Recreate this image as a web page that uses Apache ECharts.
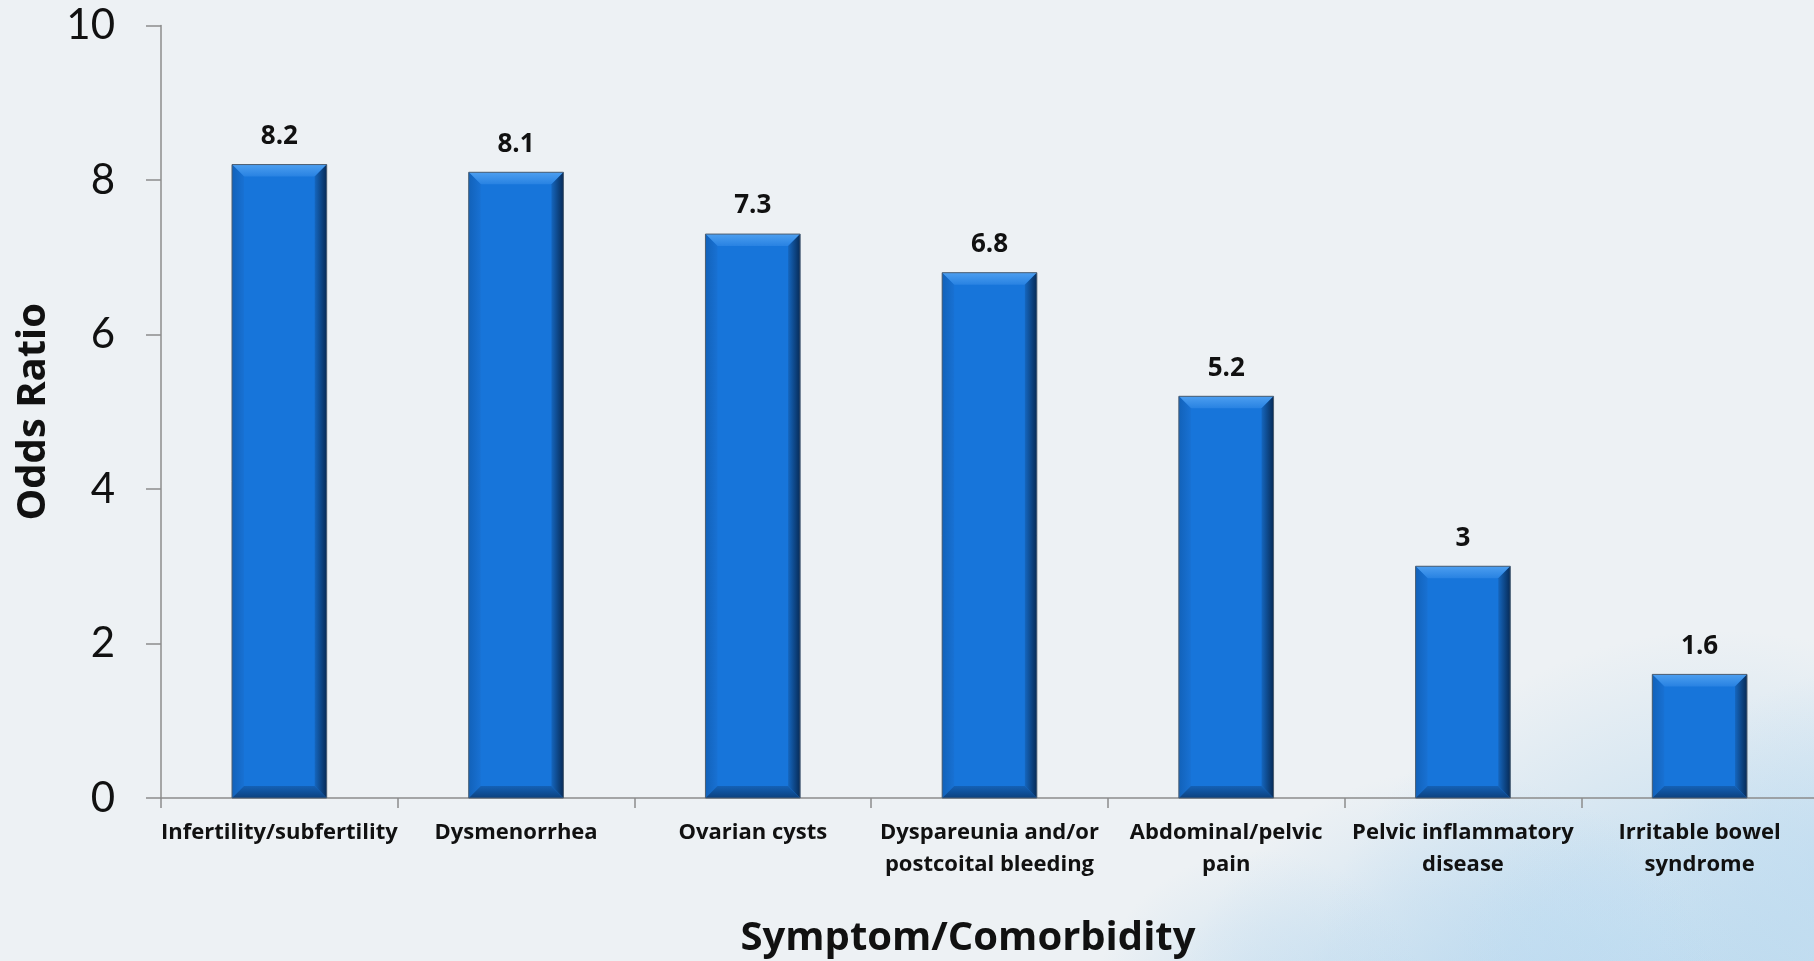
<!DOCTYPE html>
<html>
<head>
<meta charset="utf-8">
<title>Odds Ratio by Symptom/Comorbidity</title>
<script src="https://cdn.jsdelivr.net/npm/echarts@6/dist/echarts.min.js"></script>
<style>
  html, body { margin: 0; padding: 0; background: #edf1f4; }
  #chart { width: 1814px; height: 961px; }
</style>
</head>
<body>
<div id="chart"></div>
<script>
// Symptom / comorbidity categories along the x axis
const categories = [
  'Infertility/subfertility',
  'Dysmenorrhea',
  'Ovarian cysts',
  'Dyspareunia and/or\npostcoital bleeding',
  'Abdominal/pelvic\npain',
  'Pelvic inflammatory\ndisease',
  'Irritable bowel\nsyndrome'
];

// Odds ratio for each category
const oddsRatios = [8.2, 8.1, 7.3, 6.8, 5.2, 3, 1.6];

// Value axis ticks
const yTicks = [0, 2, 4, 6, 8, 10];

const BODY_FONT = '"Open Sans", Lato, sans-serif';
const NUM_FONT = 'Lato, "Open Sans", sans-serif';

const chart = echarts.init(document.getElementById('chart'), null, { renderer: 'canvas' });

// Draws one bevelled bar (with its value on top) from its category index and value
function renderBevelBar(params, api) {
  const idx = api.value(0);
  const val = api.value(1);
  const top = api.coord([idx, val]);
  const base = api.coord([idx, 0]);
  const band = api.size([1, 0])[0];
  const w = band * 0.4;
  const x0 = top[0] - w / 2;
  const x1 = top[0] + w / 2;
  const y0 = top[1];
  const y1 = base[1];
  const b = Math.min(12, w / 2, (y1 - y0) / 2);

  return {
    type: 'group',
    children: [
      {
        type: 'rect',
        shape: { x: x0, y: y0, width: w, height: y1 - y0 },
        style: { fill: '#1775da' }
      },
      {
        type: 'polygon',
        shape: { points: [[x0, y0], [x1, y0], [x1 - b, y0 + b], [x0 + b, y0 + b]] },
        style: {
          fill: new echarts.graphic.LinearGradient(0, 0, 0, 1, [
            { offset: 0, color: '#4d9ff0' },
            { offset: 1, color: '#2882e2' }
          ])
        }
      },
      {
        type: 'polygon',
        shape: { points: [[x0, y0], [x0 + b, y0 + b], [x0 + b, y1 - b], [x0, y1]] },
        style: {
          fill: new echarts.graphic.LinearGradient(0, 0, 1, 0, [
            { offset: 0, color: '#1262ba' },
            { offset: 1, color: '#1871d3' }
          ])
        }
      },
      {
        type: 'polygon',
        shape: { points: [[x1, y0], [x1 - b, y0 + b], [x1 - b, y1 - b], [x1, y1]] },
        style: {
          fill: new echarts.graphic.LinearGradient(0, 0, 1, 0, [
            { offset: 0, color: '#1566be' },
            { offset: 1, color: '#072b57' }
          ])
        }
      },
      {
        type: 'polygon',
        shape: { points: [[x0, y1], [x1, y1], [x1 - b, y1 - b], [x0 + b, y1 - b]] },
        style: {
          fill: new echarts.graphic.LinearGradient(0, 0, 0, 1, [
            { offset: 0, color: '#1461b6' },
            { offset: 1, color: '#0c417f' }
          ])
        }
      },
      {
        type: 'rect',
        shape: { x: x0, y: y0, width: w, height: y1 - y0 },
        style: { fill: null, stroke: '#4f5f70', lineWidth: 1 }
      },
      {
        type: 'text',
        style: {
          text: String(val),
          x: top[0],
          y: y0 - 15,
          align: 'center',
          verticalAlign: 'bottom',
          font: 'bold 26px ' + BODY_FONT,
          fill: '#111111'
        }
      }
    ]
  };
}

// Soft round patch of colour fading to transparent, used for the background wash
function washSpot(cx, cy, r, rgb, alpha) {
  return {
    type: 'circle',
    silent: true,
    z: -10,
    shape: { cx: cx, cy: cy, r: r },
    style: {
      fill: new echarts.graphic.RadialGradient(0.5, 0.5, 0.5, [
        { offset: 0, color: 'rgba(' + rgb + ',' + alpha + ')' },
        { offset: 0.55, color: 'rgba(' + rgb + ',' + (alpha * 0.55) + ')' },
        { offset: 1, color: 'rgba(' + rgb + ',0)' }
      ])
    }
  };
}

const option = {
  backgroundColor: '#edf1f4',
  animation: false,
  graphic: [
    washSpot(1720, 1050, 420, '165,207,236', 0.7),
    washSpot(1450, 1050, 280, '172,210,238', 0.6),
    washSpot(1260, 1020, 170, '180,214,238', 0.45),
    washSpot(1860, 880, 210, '180,215,240', 0.5),
    washSpot(1600, 950, 140, '190,221,243', 0.4)
  ],
  grid: {
    left: 161,
    right: -4,
    top: 25.5,
    bottom: 163,
    containLabel: false,
    outerBoundsMode: 'none'
  },
  xAxis: {
    type: 'category',
    data: categories,
    name: 'Symptom/Comorbidity',
    nameLocation: 'middle',
    nameGap: 121,
    nameTextStyle: {
      fontFamily: BODY_FONT,
      fontWeight: 'bold',
      fontSize: 40,
      color: '#111111',
      padding: [0, 43, 0, 0]
    },
    axisLine: { show: true, lineStyle: { color: '#8c8c8c', width: 1.5 } },
    axisTick: { show: true, length: 10, lineStyle: { color: '#8c8c8c', width: 1.5 } },
    axisLabel: {
      interval: 0,
      margin: 19,
      fontFamily: BODY_FONT,
      fontWeight: 'bold',
      fontSize: 22,
      lineHeight: 32,
      color: '#111111'
    },
    splitLine: { show: false }
  },
  yAxis: {
    type: 'value',
    min: yTicks[0],
    max: yTicks[yTicks.length - 1],
    interval: yTicks[1] - yTicks[0],
    name: 'Odds Ratio',
    nameLocation: 'middle',
    nameGap: 107,
    nameRotate: 90,
    nameTextStyle: {
      fontFamily: BODY_FONT,
      fontWeight: 'bold',
      fontSize: 40,
      color: '#111111'
    },
    axisLine: { show: true, lineStyle: { color: '#8c8c8c', width: 1.5 } },
    axisTick: { show: true, length: 15, lineStyle: { color: '#8c8c8c', width: 1.5 } },
    axisLabel: {
      margin: 46,
      fontFamily: NUM_FONT,
      fontSize: 42,
      color: '#111111'
    },
    splitLine: { show: false }
  },
  series: [
    {
      type: 'custom',
      renderItem: renderBevelBar,
      encode: { x: 0, y: 1 },
      data: oddsRatios.map((v, i) => [i, v]),
      clip: false
    }
  ]
};

chart.setOption(option);
</script>
</body>
</html>
